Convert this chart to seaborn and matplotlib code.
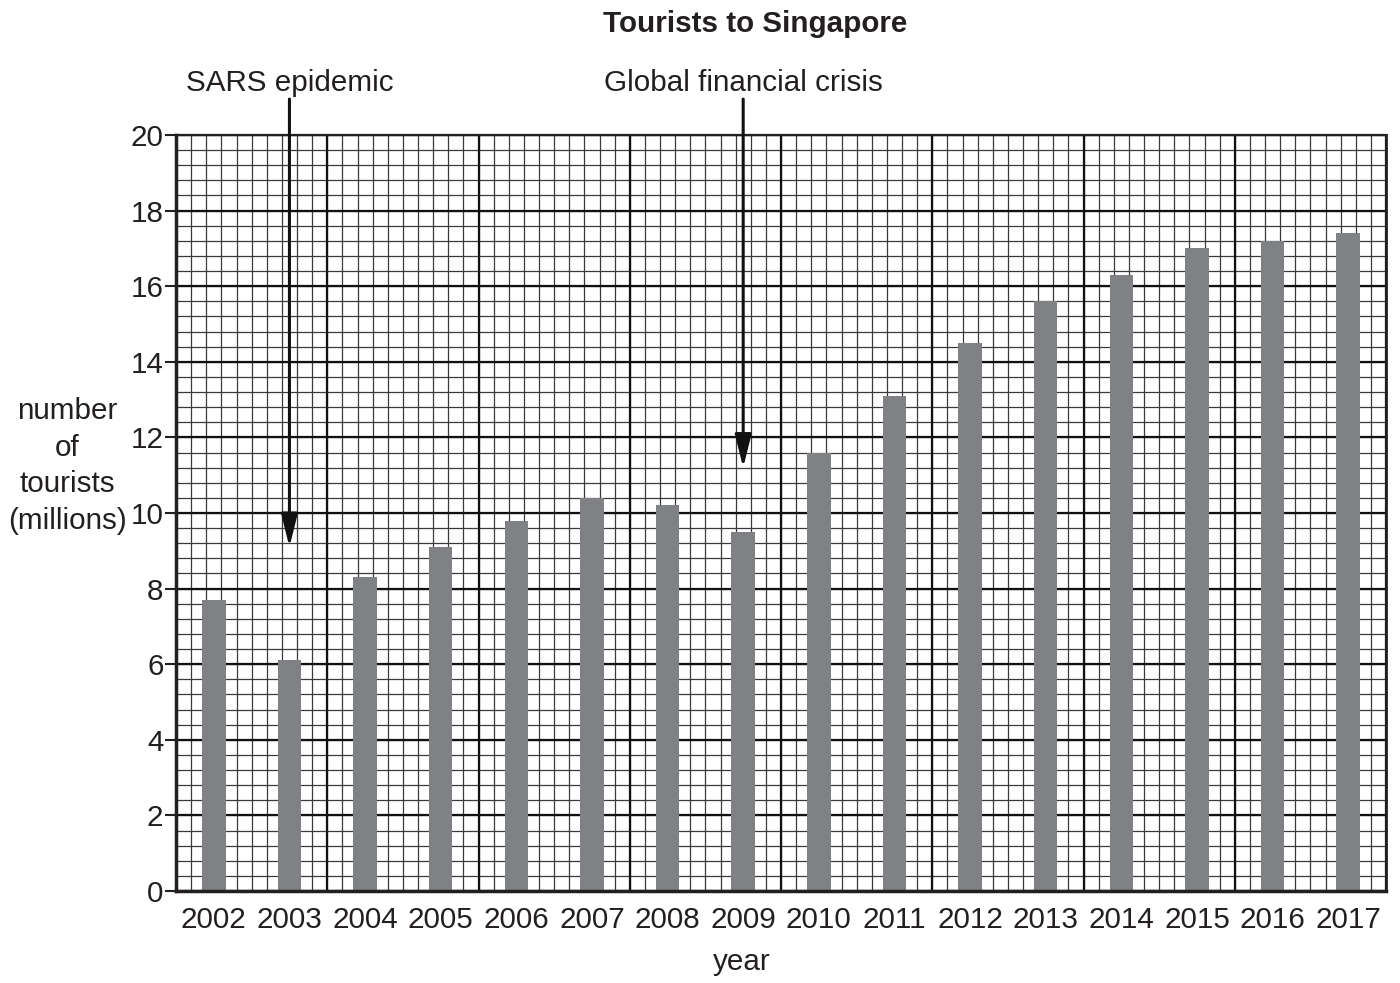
import matplotlib
matplotlib.use("Agg")
import matplotlib.pyplot as plt
import seaborn as sns
import numpy as np
import pandas as pd
from matplotlib.ticker import FixedLocator

years = ["2002", "2003", "2004", "2005", "2006", "2007", "2008", "2009",
         "2010", "2011", "2012", "2013", "2014", "2015", "2016", "2017"]
tourists = [7.7, 6.1, 8.3, 9.1, 9.8, 10.4, 10.2, 9.5,
            11.6, 13.1, 14.5, 15.6, 16.3, 17.0, 17.2, 17.4]
y_ticks = [0, 2, 4, 6, 8, 10, 12, 14, 16, 18, 20]
events = ["SARS epidemic", "Global financial crisis"]
event_years = ["2003", "2009"]
event_tips = [9.1, 11.2]

sns.set_theme(style="white")
plt.rcParams['font.family'] = ['Liberation Sans', 'DejaVu Sans']
txt = "#231f20"
fs = 21.3

df = pd.DataFrame({"year": years, "tourists": tourists})

fig = plt.figure(figsize=(14, 9.83), dpi=100)
ax = fig.add_axes([176/1400, 1-891/983, (1386-176)/1400, (891-135)/983])

sns.barplot(data=df, x="year", y="tourists", color="#808184", width=0.31,
            saturation=1, ax=ax, zorder=3, edgecolor="none", linewidth=0)

ax.set_xlim(-0.5, len(years) - 0.5)
ax.set_ylim(0, 20)

# graph-paper grid
minor_x = np.arange(-0.5, len(years) - 0.5 + 1e-9, 0.2)
major_x = np.arange(-0.5, len(years) - 0.5 + 1e-9, 2.0)
for xv in minor_x:
    ax.axvline(xv, color="#3a3a3a", lw=0.9, zorder=1)
for xv in major_x:
    ax.axvline(xv, color="#111111", lw=1.6, zorder=1.5)
for yv in np.arange(0, 20 + 1e-9, 0.4):
    ax.axhline(yv, color="#3a3a3a", lw=0.9, zorder=1)
for yv in y_ticks:
    ax.axhline(yv, color="#111111", lw=1.6, zorder=1.5)

ax.yaxis.set_major_locator(FixedLocator(y_ticks))
ax.set_yticklabels([str(v) for v in y_ticks])
ax.tick_params(axis="y", which="major", left=True, length=8, width=1.5,
               color=txt, labelsize=fs, labelcolor=txt, pad=1)
ax.tick_params(axis="x", bottom=False, labelsize=fs, labelcolor=txt, pad=5)

for side in ["left", "bottom", "right", "top"]:
    ax.spines[side].set_visible(True)
    ax.spines[side].set_color(txt)
ax.spines["left"].set_linewidth(2.5)
ax.spines["bottom"].set_linewidth(2.5)
ax.spines["right"].set_linewidth(2.0)
ax.spines["top"].set_linewidth(1.6)
for s in ax.spines.values():
    s.set_zorder(5)

ax.set_xlabel("")
ax.set_ylabel("")
fig.text(742/1400, 1-962/983, "year", ha="center", va="center",
         fontsize=fs, color=txt)
fig.text(67/1400, 1-466/983, "number\nof\ntourists\n(millions)", ha="center",
         va="center", fontsize=fs, color=txt, linespacing=1.4)

fig.text(755/1400, 1-24/983, "Tourists to Singapore", ha="center", va="center",
         fontsize=fs, fontweight="bold", color=txt)

for label, yr, tip in zip(events, event_years, event_tips):
    xi = years.index(yr)
    ax.annotate("", xy=(xi, tip), xytext=(xi, 20.95), xycoords="data",
                arrowprops=dict(arrowstyle="-|>,head_length=1.0,head_width=0.25",
                                mutation_scale=20,
                                color="#111111", lw=2.2, shrinkA=0, shrinkB=0),
                annotation_clip=False, zorder=6)
    ax.text(xi, 21.38, label, ha="center", va="center", fontsize=fs,
            color=txt, clip_on=False)

fig.savefig("out.png", dpi=100, facecolor="white")
